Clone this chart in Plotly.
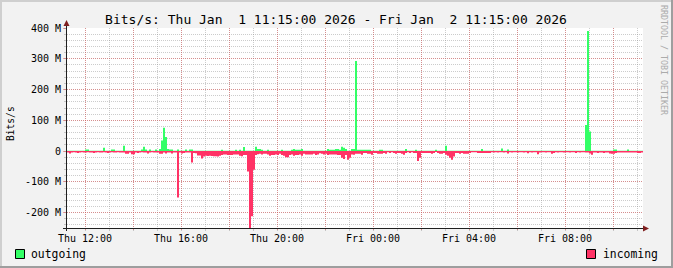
import plotly.graph_objects as go
import pandas as pd

# ---------------- data (Mbit/s, 5-minute steps) ----------------
START = "2026-01-01 11:15:00"
END = "2026-01-02 11:15:00"
STEP = "5min"

outgoing_mbps = [
    1, 1, 1, 1, 1, 1, 1, 1, 1, 5, 5, 1, 1, 1, 1, 1, 1, 1, 11, 1, 1, 1, 5, 5,
    1, 1, 1, 1, 17, 1, 1, 1, 1, 1, 1, 1, 1, 5, 14, 5, 1, 5, 1, 1, 5, 1, 7, 34,
    76, 46, 7, 5, 5, 1, 1, 5, 1, 1, 1, 5, 1, 5, 5, 1, 1, 1, 1, 1, 1, 1, 1, 1,
    1, 1, 1, 1, 1, 4, 1, 1, 1, 1, 1, 1, 4, 1, 4, 1, 13, 1, 1, 1, 1, 1, 14, 7,
    7, 4, 1, 1, 4, 1, 1, 1, 1, 1, 1, 4, 1, 1, 1, 1, 4, 7, 4, 4, 4, 7, 1, 1,
    1, 1, 1, 1, 1, 1, 1, 1, 1, 1, 7, 4, 4, 4, 7, 7, 4, 14, 11, 7, 1, 1, 7, 7,
    293, 4, 4, 4, 4, 4, 4, 4, 1, 1, 1, 1, 4, 4, 1, 1, 1, 1, 1, 1, 1, 1, 1, 1,
    1, 7, 1, 1, 1, 1, 4, 1, 1, 1, 1, 1, 1, 1, 1, 1, 4, 1, 1, 1, 1, 17, 1, 1,
    1, 1, 1, 1, 1, 1, 1, 1, 1, 1, 1, 1, 1, 1, 1, 7, 1, 1, 1, 1, 1, 1, 1, 1,
    1, 8, 1, 1, 5, 1, 1, 1, 1, 1, 1, 1, 1, 1, 1, 1, 1, 1, 1, 1, 1, 1, 1, 1,
    1, 1, 1, 1, 1, 1, 1, 1, 1, 1, 1, 1, 1, 1, 1, 1, 1, 1, 1, 85, 390, 64, 1, 1,
    1, 1, 1, 1, 1, 1, 1, 1, 1, 5, 5, 1, 1, 1, 1, 1, 5, 1, 1, 1, 1, 1, 1, 1,
]

incoming_mbps = [
    -5, -8, -5, -4, -5, -6, -5, -4, -5, -5, -4, -5, -5, -6, -5, -4, -5, -5, -4, -5, -6, -5, -4, -5,
    -5, -4, -5, -5, -5, -9, -9, -5, -10, -10, -5, -6, -5, -4, -5, -5, -8, -5, -4, -5, -5, -5, -9, -9,
    -5, -8, -5, -5, -8, -5, -5, -151, -5, -8, -6, -5, -5, -5, -37, -6, -7, -14, -14, -24, -18, -15, -16, -15,
    -16, -17, -17, -18, -15, -13, -11, -11, -13, -13, -13, -11, -11, -11, -15, -17, -13, -13, -66, -255, -212, -61, -13, -10,
    -9, -11, -9, -9, -11, -15, -13, -13, -11, -13, -9, -13, -15, -20, -20, -13, -11, -15, -13, -13, -11, -15, -9, -11,
    -11, -11, -11, -9, -13, -11, -7, -9, -11, -9, -13, -11, -11, -11, -11, -13, -13, -22, -26, -13, -28, -22, -11, -12,
    -9, -9, -9, -12, -6, -6, -9, -9, -12, -6, -6, -9, -9, -9, -6, -9, -4, -6, -4, -6, -9, -6, -6, -9,
    -12, -6, -4, -6, -4, -6, -6, -32, -22, -6, -6, -6, -6, -6, -9, -6, -3, -6, -9, -9, -6, -12, -15, -22,
    -28, -18, -6, -6, -9, -6, -9, -9, -9, -6, -4, -4, -4, -6, -6, -6, -6, -6, -6, -6, -4, -5, -4, -5,
    -4, -4, -5, -4, -8, -4, -5, -4, -4, -5, -4, -4, -5, -4, -7, -4, -5, -4, -4, -10, -5, -4, -4, -5,
    -4, -4, -9, -6, -4, -5, -4, -4, -5, -4, -4, -5, -4, -4, -6, -4, -5, -4, -4, -5, -5, -8, -12, -5,
    -5, -6, -5, -5, -6, -5, -5, -8, -9, -9, -6, -5, -5, -5, -5, -5, -5, -5, -5, -5, -5, -6, -6, -5,
]

x_tick_times = [
    "2026-01-01 12:00", "2026-01-01 14:00", "2026-01-01 16:00", "2026-01-01 18:00",
    "2026-01-01 20:00", "2026-01-01 22:00", "2026-01-02 00:00", "2026-01-02 02:00",
    "2026-01-02 04:00", "2026-01-02 06:00", "2026-01-02 08:00", "2026-01-02 10:00",
]
x_tick_labels = ["Thu 12:00", "", "Thu 16:00", "", "Thu 20:00", "",
                 "Fri 00:00", "", "Fri 04:00", "", "Fri 08:00", ""]
y_tick_vals = [-200, -100, 0, 100, 200, 300, 400]
y_tick_labels = ["-200 M", "-100 M", "0", "100 M", "200 M", "300 M", "400 M"]
Y_RANGE = [-250, 400]

TITLE = "Bits/s: Thu Jan\u00a0 1 11:15:00 2026 - Fri Jan\u00a0 2 11:15:00 2026"

# ---------------- styling ----------------
FONT = "DejaVu Sans Mono"
GREEN = "#33FF66"
RED = "#FF3366"
BACK = "#F2F2F2"
SHADE_A = "#CFCFCF"
SHADE_B = "#9E9E9E"
MGRID = "rgba(222,79,79,0.5)"
GRID = "rgba(143,143,143,0.45)"
AXIS = "#1F1F1F"
ARROW = "#801F1F"

W, H = 673, 268
PL, PR, PT, PB = 67, 643, 28, 228


def px_x(px):
    return (px - PL) / (PR - PL)


def px_y(py):
    return (PB - py) / (PB - PT)


times = list(pd.date_range(START, periods=len(outgoing_mbps), freq=STEP)) + [pd.Timestamp(END)]

fig = go.Figure()
fig.add_trace(go.Scatter(
    x=times, y=outgoing_mbps + [outgoing_mbps[-1]], name="outgoing",
    mode="lines", line=dict(width=0, color=GREEN, shape="hv"),
    fill="tozeroy", fillcolor=GREEN, showlegend=False, hoverinfo="skip"))
fig.add_trace(go.Scatter(
    x=times, y=incoming_mbps + [incoming_mbps[-1]], name="incoming",
    mode="lines", line=dict(width=0, color=RED, shape="hv"),
    fill="tozeroy", fillcolor=RED, showlegend=False, hoverinfo="skip"))

shapes = []
# 3D frame
shapes.append(dict(type="rect", xref="paper", yref="paper", x0=px_x(0), x1=px_x(W),
                   y0=px_y(0), y1=px_y(2), fillcolor=SHADE_A, line=dict(width=0)))
shapes.append(dict(type="rect", xref="paper", yref="paper", x0=px_x(0), x1=px_x(2),
                   y0=px_y(0), y1=px_y(H), fillcolor=SHADE_A, line=dict(width=0)))
shapes.append(dict(type="rect", xref="paper", yref="paper", x0=px_x(0), x1=px_x(W),
                   y0=px_y(H - 2), y1=px_y(H), fillcolor=SHADE_B, line=dict(width=0)))
shapes.append(dict(type="rect", xref="paper", yref="paper", x0=px_x(W - 2), x1=px_x(W),
                   y0=px_y(0), y1=px_y(H), fillcolor=SHADE_B, line=dict(width=0)))
# axis lines
shapes.append(dict(type="line", xref="paper", yref="paper", x0=px_x(63), x1=px_x(645),
                   y0=px_y(228.5), y1=px_y(228.5), line=dict(color=AXIS, width=1)))
shapes.append(dict(type="line", xref="paper", yref="paper", x0=px_x(66.5), x1=px_x(66.5),
                   y0=px_y(231), y1=px_y(23), line=dict(color=AXIS, width=1)))
# arrows
shapes.append(dict(type="path", xref="paper", yref="paper",
                   path="M %f,%f L %f,%f L %f,%f Z" % (px_x(66.5), px_y(20), px_x(63.5), px_y(26),
                                                       px_x(69.5), px_y(26)),
                   fillcolor=ARROW, line=dict(width=0)))
shapes.append(dict(type="path", xref="paper", yref="paper",
                   path="M %f,%f L %f,%f L %f,%f Z" % (px_x(649), px_y(228.5), px_x(643), px_y(225.5),
                                                       px_x(643), px_y(231.5)),
                   fillcolor=ARROW, line=dict(width=0)))
# legend boxes
shapes.append(dict(type="rect", xref="paper", yref="paper", x0=px_x(15.5), x1=px_x(24.5),
                   y0=px_y(249.5), y1=px_y(258.5), fillcolor=GREEN, line=dict(color="#000000", width=1)))
shapes.append(dict(type="rect", xref="paper", yref="paper", x0=px_x(586.5), x1=px_x(595.5),
                   y0=px_y(249.5), y1=px_y(258.5), fillcolor=RED, line=dict(color="#000000", width=1)))

annotations = [
    dict(text="outgoing", xref="paper", yref="paper", x=px_x(29), y=px_y(254), xanchor="left",
         yanchor="middle", showarrow=False, font=dict(family=FONT, size=11.4, color="#000000")),
    dict(text="incoming", xref="paper", yref="paper", x=px_x(600.5), y=px_y(254), xanchor="left",
         yanchor="middle", showarrow=False, font=dict(family=FONT, size=11.4, color="#000000")),
    dict(text="Bits/s", xref="paper", yref="paper", x=px_x(10), y=px_y(124), xanchor="center",
         yanchor="middle", textangle=-90, showarrow=False, font=dict(family=FONT, size=9.6, color="#000000")),
    dict(text="RRDTOOL / TOBI OETIKER", xref="paper", yref="paper", x=px_x(664), y=px_y(60),
         xanchor="center", yanchor="middle", textangle=90, showarrow=False,
         font=dict(family=FONT, size=8.3, color="#ABABAB")),
]

fig.update_layout(
    width=W, height=H, autosize=False,
    margin=dict(l=PL, r=W - PR, t=PT, b=H - PB, pad=0),
    paper_bgcolor=BACK, plot_bgcolor="#FFFFFF",
    font=dict(family=FONT, size=10, color="#000000"),
    title=dict(text=TITLE, xref="container", yref="container", x=336 / W, y=1 - 19 / H,
               xanchor="center", yanchor="middle", font=dict(family=FONT, size=13, color="#000000")),
    showlegend=False,
    shapes=shapes,
    annotations=annotations,
    xaxis=dict(
        type="date", range=[START, END], tickmode="array", tickvals=x_tick_times,
        ticktext=x_tick_labels, showgrid=True, gridcolor=MGRID, griddash="1px,1px", gridwidth=1,
        ticks="outside", ticklen=1, tickcolor=MGRID, showline=False, zeroline=False,
        tickfont=dict(family=FONT, size=10, color="#000000"),
        minor=dict(tick0="2026-01-01 12:00", dtick=3600000, showgrid=True, gridcolor=GRID,
                   griddash="1px,1px", gridwidth=1, ticks="outside", ticklen=2, tickcolor=GRID),
    ),
    yaxis=dict(
        range=Y_RANGE, tickmode="array", tickvals=y_tick_vals, ticktext=y_tick_labels,
        showgrid=True, gridcolor=MGRID, griddash="1px,1px", gridwidth=1,
        ticks="outside", ticklen=3, tickcolor=MGRID, showline=False, zeroline=False,
        tickfont=dict(family=FONT, size=10, color="#000000"),
        minor=dict(tick0=0, dtick=20, showgrid=True, gridcolor=GRID, griddash="1px,1px",
                   gridwidth=1, ticks="outside", ticklen=2, tickcolor=GRID),
    ),
)

fig.write_html("out.html")
